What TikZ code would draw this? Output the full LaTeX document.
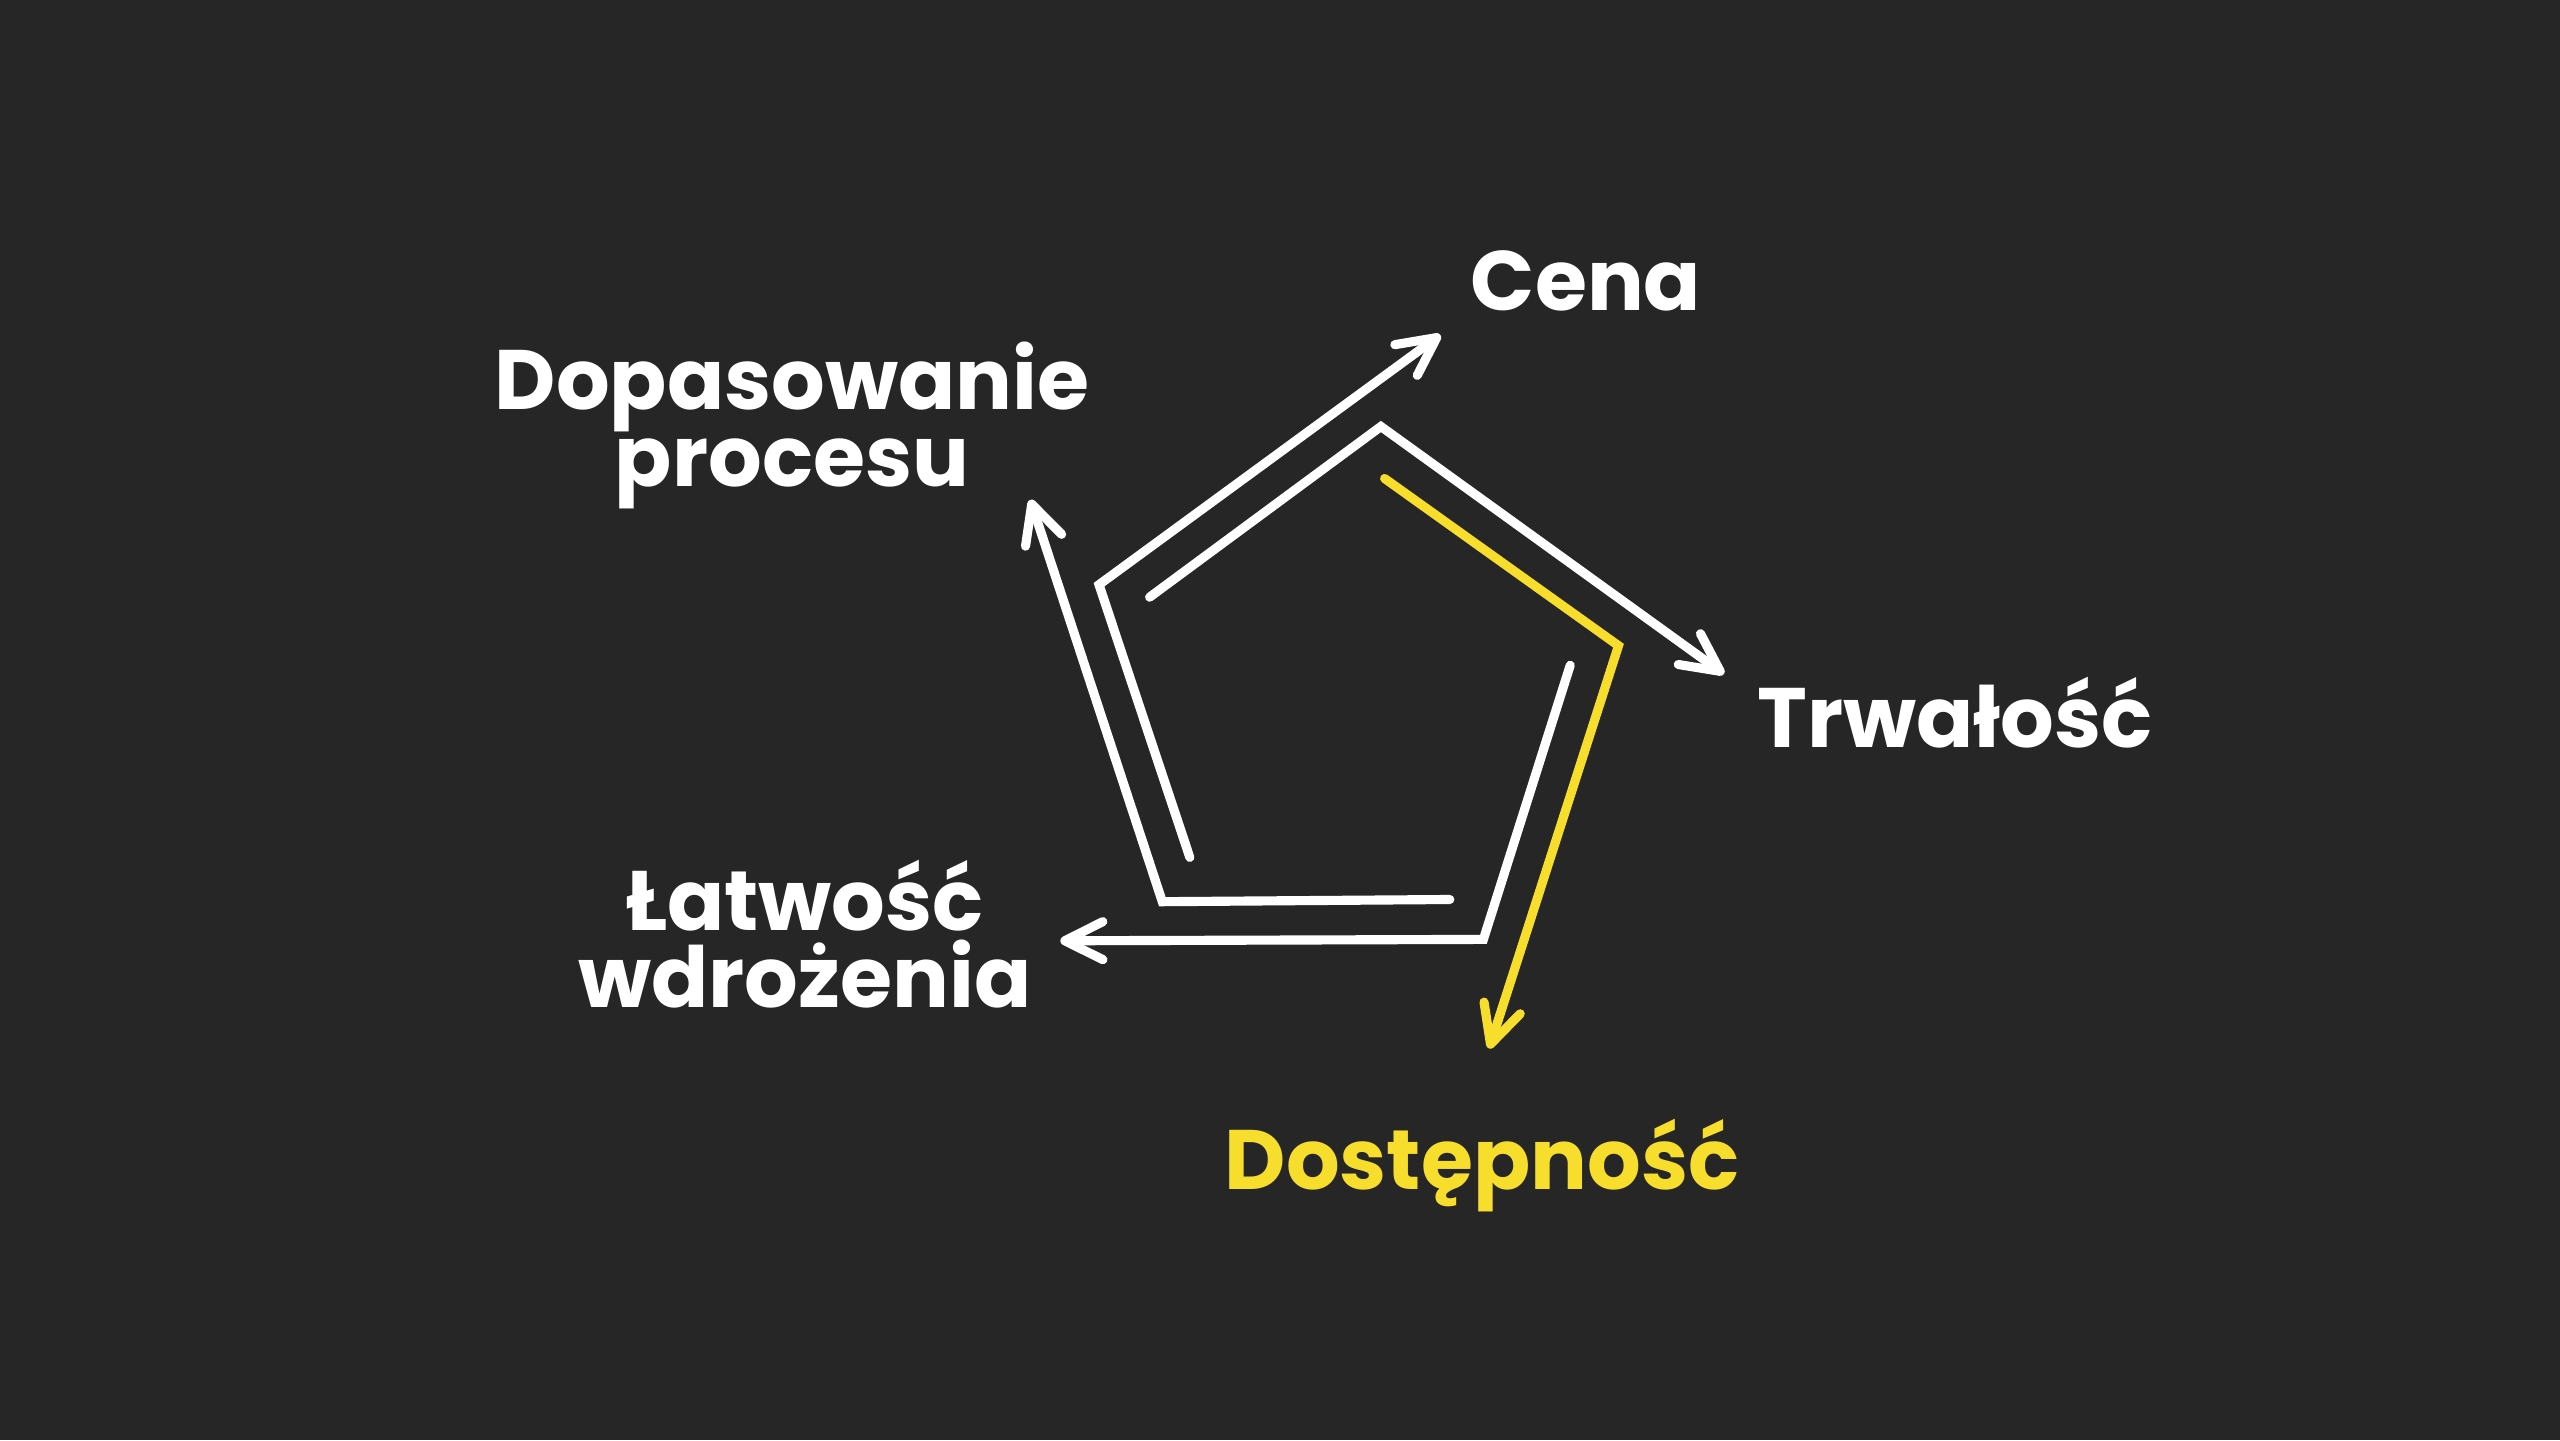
\documentclass[tikz,border=0pt]{standalone}
\usepackage{fontspec}
\setmainfont{Poppins}
\usetikzlibrary{arrows.meta}
\definecolor{bgdark}{HTML}{262626}
\definecolor{accent}{HTML}{F8DE2C}

\begin{document}
\begin{tikzpicture}[
  edge/.style={line width=2.6pt, line cap=round, -{Straight Barb[length=3.8mm,width=3.8mm,round]}},
  lbl/.style={text=white, font=\fontsize{24}{22}\selectfont\bfseries, align=center, inner sep=0pt}
]
\fill[bgdark] (0,0) rectangle (25.6,14.4);

\coordinate (S1) at (11.496,8.428);
\coordinate (K1) at (13.809,10.135);
\coordinate (E1) at (17.239,7.660);
\coordinate (S2) at (13.846,9.615);
\coordinate (K2) at (16.185,7.943);
\coordinate (E2) at (14.891,3.915);
\coordinate (S3) at (15.702,7.747);
\coordinate (K3) at (14.834,5.006);
\coordinate (E3) at (10.603,4.992);
\coordinate (S4) at (14.498,5.405);
\coordinate (K4) at (11.623,5.383);
\coordinate (E4) at (10.303,9.402);
\coordinate (S5) at (11.898,5.826);
\coordinate (K5) at (10.990,8.553);
\coordinate (E5) at (14.404,11.051);

\node[lbl, anchor=base] (cena) at (15.86,11.29) {Cena};
\node[lbl, anchor=base] (trwalosc) at (19.55,6.92) {Trwałość};
\node[lbl, anchor=base, text=accent] (dostepnosc) at (14.82,2.51) {Dostępność};
\node[lbl, anchor=base] (latwosc) at (8.05,4.32) {Łatwość\\wdrożenia};
\node[lbl, anchor=base] (dopasowanie) at (7.92,9.53) {Dopasowanie\\procesu};

\draw[edge, white] (S1) -- (K1) -- (E1);
\draw[edge, accent] (S2) -- (K2) -- (E2);
\draw[edge, white] (S3) -- (K3) -- (E3);
\draw[edge, white] (S4) -- (K4) -- (E4);
\draw[edge, white] (S5) -- (K5) -- (E5);
\end{tikzpicture}
\end{document}
